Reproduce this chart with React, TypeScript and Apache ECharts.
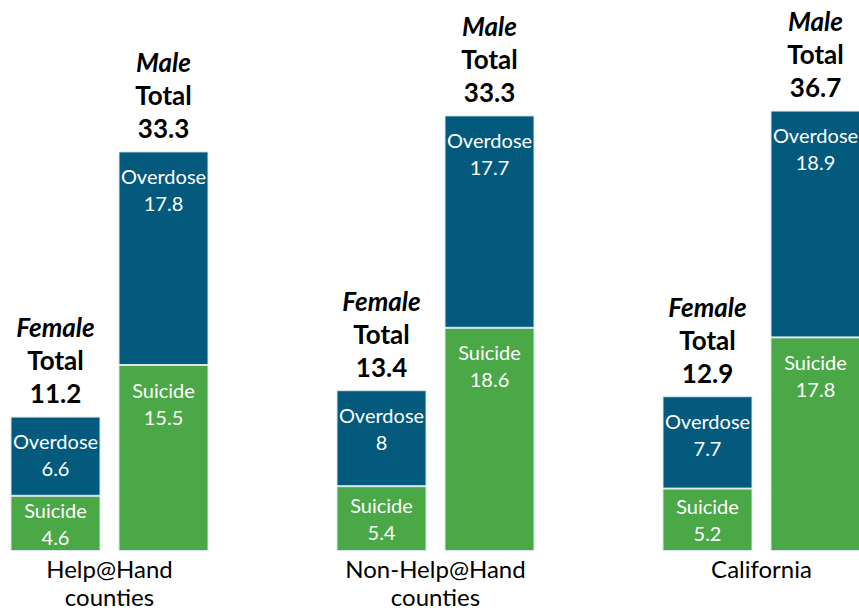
import React, { useEffect, useRef } from "react";
import * as echarts from "echarts";

const categories = ["Help@Hand\ncounties", "Non-Help@Hand\ncounties", "California"];
const femaleSuicide = [4.6, 5.4, 5.2];
const femaleOverdose = [6.6, 8, 7.7];
const maleSuicide = [15.5, 18.6, 17.8];
const maleOverdose = [17.8, 17.7, 18.9];
const femaleTotals = ["11.2", "13.4", "12.9"];
const maleTotals = ["33.3", "33.3", "36.7"];

const GREEN = "#4ba847";
const BLUE = "#035a7d";
const FONT = "Lato, 'Open Sans', sans-serif";

export default function App() {
  const ref = useRef<HTMLDivElement>(null);
  useEffect(() => {
    if (!ref.current) return;
    const chart = echarts.init(ref.current, null, { renderer: "svg" });
    const insideLabel = (name: string, pos: string, dist: number) => ({
      show: true,
      position: pos,
      distance: dist,
      color: "#ffffff",
      fontFamily: FONT,
      fontSize: 20,
      lineHeight: 27,
      formatter: (p: any) => `${name}\n${p.value}`,
    });
    const totalLabel = (sex: string, totals: string[]) => ({
      show: true,
      position: "top",
      distance: 7,
      formatter: (p: any) => `{a|${sex}}\n{b|Total}\n{b|${totals[p.dataIndex]}}`,
      rich: {
        a: { fontFamily: FONT, fontSize: 26, fontWeight: "bold", fontStyle: "italic", color: "#000", lineHeight: 33 },
        b: { fontFamily: FONT, fontSize: 26, fontWeight: "bold", color: "#000", lineHeight: 33 },
      },
    });
    const itemBorder = { borderColor: "#d9e6ee", borderWidth: 1 };
    chart.setOption({
      animation: false,
      grid: { left: -53.5, width: 978, top: 11, bottom: 60, outerBoundsMode: "none", containLabel: false },
      xAxis: {
        type: "category",
        data: categories,
        axisLine: { show: false },
        axisTick: { show: false },
        axisLabel: { color: "#000", fontFamily: FONT, fontSize: 24, lineHeight: 28, margin: 3, interval: 0 },
      },
      yAxis: { type: "value", min: 0, max: 45, show: false, splitLine: { show: false } },
      series: [
        {
          type: "bar", name: "Female Suicide", stack: "F", barWidth: 90, barGap: "20%",
          data: femaleSuicide, itemStyle: { color: GREEN, ...itemBorder },
          label: insideLabel("Suicide", "inside", 0),
        },
        {
          type: "bar", name: "Female Overdose", stack: "F", barWidth: 90, barGap: "20%",
          data: femaleOverdose, itemStyle: { color: BLUE, ...itemBorder },
          label: insideLabel("Overdose", "insideTop", 11),
        },
        {
          type: "bar", name: "Female Total", stack: "F", barWidth: 90, barGap: "20%",
          data: femaleTotals.map(() => 0), itemStyle: { color: "transparent" },
          label: totalLabel("Female", femaleTotals),
        },
        {
          type: "bar", name: "Male Suicide", stack: "M", barWidth: 90, barGap: "20%",
          data: maleSuicide, itemStyle: { color: GREEN, ...itemBorder },
          label: insideLabel("Suicide", "insideTop", 11),
        },
        {
          type: "bar", name: "Male Overdose", stack: "M", barWidth: 90, barGap: "20%",
          data: maleOverdose, itemStyle: { color: BLUE, ...itemBorder },
          label: insideLabel("Overdose", "insideTop", 11),
        },
        {
          type: "bar", name: "Male Total", stack: "M", barWidth: 90, barGap: "20%",
          data: maleTotals.map(() => 0), itemStyle: { color: "transparent" },
          label: totalLabel("Male", maleTotals),
        },
      ],
    });
    return () => chart.dispose();
  }, []);
  return (
    <div
      ref={ref}
      style={{ position: "fixed", left: 0, top: 0, width: 859, height: 611, background: "#fff" }}
    />
  );
}
